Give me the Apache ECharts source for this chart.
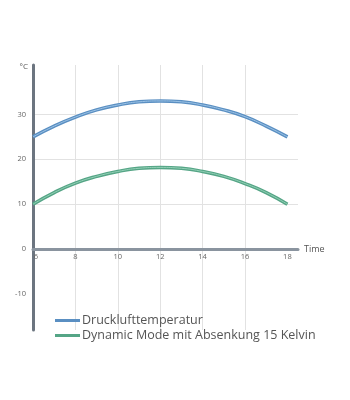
<!DOCTYPE html>
<html><head><meta charset="utf-8">
<script src="https://cdn.jsdelivr.net/npm/echarts@6/dist/echarts.min.js"></script>
<style>html,body{margin:0;padding:0;background:#fff}#c{width:350px;height:400px}</style>
</head><body><div id="c"></div>
<script>
var hours = [6,7,8,9,10,11,12,13,14,15,16,17,18];
var druckluft = [25,27.4,29.4,31,32.1,32.8,33,32.8,32.1,31,29.5,27.4,25];
var dynamic = [10,12.6,14.7,16.2,17.3,18,18.2,18,17.3,16.2,14.6,12.6,10];
var xTicks = [6,8,10,12,14,16,18];
var xGrid = [8,10,12,14,16];
var yTicks = [-10,0,10,20,30];
var names = ['Drucklufttemperatur','Dynamic Mode mit Absenkung 15 Kelvin'];

function pairs(v){ return hours.map(function(h,i){ return [h, v[i]]; }); }

var chart = echarts.init(document.getElementById('c'));
var font = 'Open Sans';
chart.setOption({
  animation:false,
  grid:{left:33, top:65, width:265, height:265, containLabel:false},
  legend:{
    orient:'vertical', left:50, top:309, itemGap:2,
    icon:'rect', itemWidth:25, itemHeight:3,
    data:names,
    textStyle:{fontFamily:font, fontSize:12.5, color:'#555', padding:[0,0,0,-3]}
  },
  xAxis:{
    type:'value', min:6, max:18.5, offset:-81,
    name:'Time', nameLocation:'end', nameGap:6,
    nameTextStyle:{fontFamily:font, fontSize:9, color:'#555'},
    axisLine:{onZero:false, lineStyle:{color:'#8a949f', width:3}},
    axisTick:{show:false, customValues:xGrid},
    axisLabel:{customValues:xTicks, fontFamily:font, fontSize:7.5, color:'#666', margin:4,
      formatter:function(v){ return v === xTicks[0] ? '{f|' + v + '}' : String(v); },
      rich:{f:{fontFamily:font, fontSize:7.5, color:'#666', padding:[0,0,0,6]}}},
    splitLine:{show:true, lineStyle:{color:'#e2e2e2', width:1}}
  },
  yAxis:{
    type:'value', min:-18, max:41,
    name:'°C', nameLocation:'end', nameGap:-6,
    nameTextStyle:{fontFamily:font, fontSize:8, color:'#555', align:'right', padding:[0,5,0,0]},
    axisLine:{onZero:false, lineStyle:{color:'#6c7580', width:3}},
    axisTick:{show:false, customValues:[10,20,30]},
    axisLabel:{customValues:yTicks, fontFamily:font, fontSize:7.5, color:'#666', margin:7},
    splitLine:{show:true, lineStyle:{color:'#e2e2e2', width:1}}
  },
  series:[
    {name:names[0], type:'line', smooth:true, showSymbol:false, data:pairs(druckluft),
     color:'#5a8fc2', lineStyle:{width:3.5, color:'#5a8fc2'}, z:3},
    {name:names[1], type:'line', smooth:true, showSymbol:false, data:pairs(dynamic),
     color:'#55a586', lineStyle:{width:3.5, color:'#55a586'}, z:3},
    {name:'hl1', type:'line', smooth:true, showSymbol:false, silent:true, data:pairs(druckluft),
     lineStyle:{width:1, color:'#9cc3e6'}, z:4},
    {name:'hl2', type:'line', smooth:true, showSymbol:false, silent:true, data:pairs(dynamic),
     lineStyle:{width:1, color:'#92d0b6'}, z:4}
  ]
});
</script></body></html>
